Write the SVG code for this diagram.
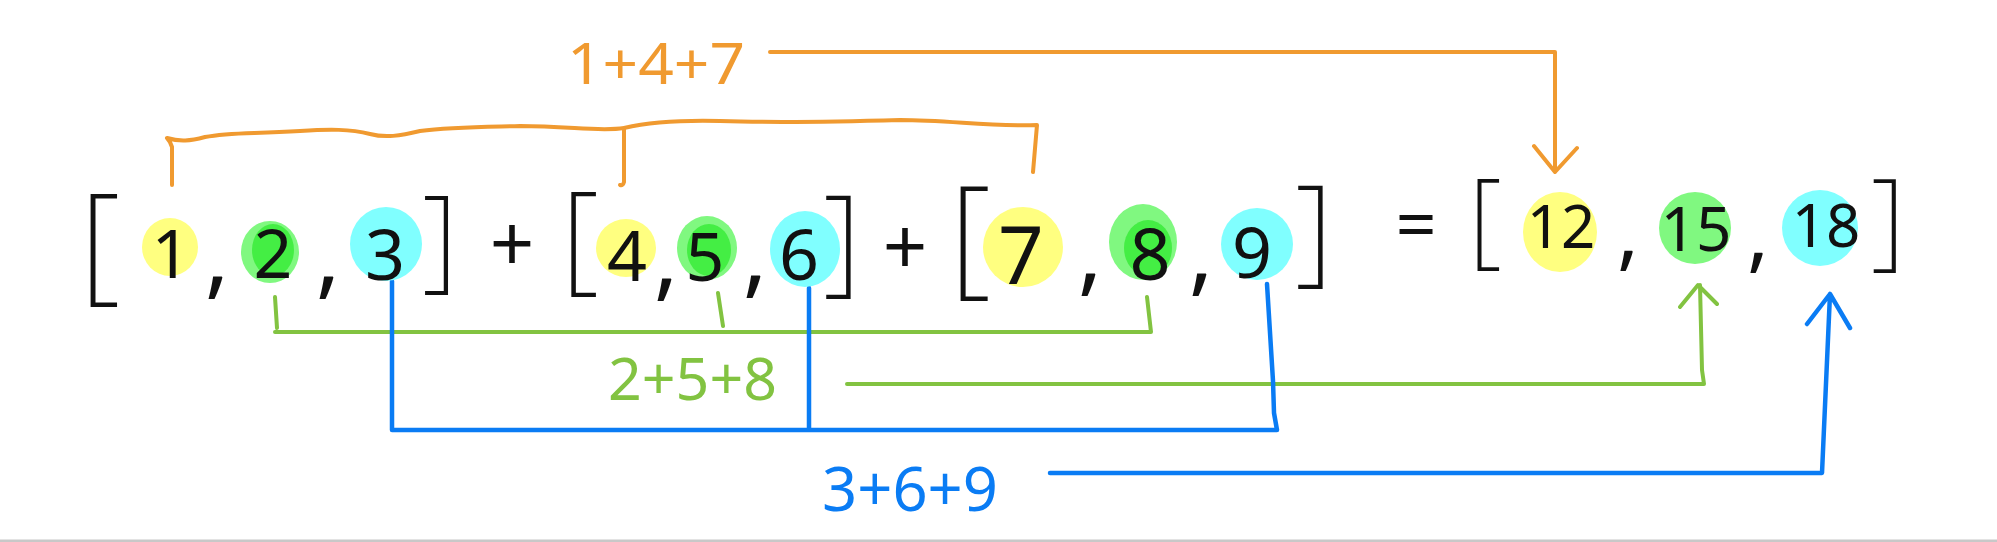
<svg xmlns="http://www.w3.org/2000/svg" width="1997" height="542" viewBox="0 0 1997 542">
<style>
.dg{font-family:"Noto Sans","Liberation Sans",sans-serif;fill:#111;text-anchor:middle}
.br{font-family:"Noto Sans","Liberation Sans",sans-serif;font-weight:200;fill:#111;text-anchor:middle}
.lbl{font-family:"Noto Sans","Liberation Sans",sans-serif}
.or{stroke:#F09A30;fill:none;stroke-width:4;stroke-linecap:round;stroke-linejoin:round}
.gr{stroke:#82C341;fill:none;stroke-width:4;stroke-linecap:round;stroke-linejoin:round}
.bl{stroke:#0A7CF4;fill:none;stroke-width:4.5;stroke-linecap:round;stroke-linejoin:round}
.y{fill:#FFFF80}
.g{fill:#80F880}
.gi{fill:#44EE44}
.c{fill:#80FFFF}
</style>
<rect width="1997" height="542" fill="#ffffff"/>
<rect x="0" y="539.5" width="1997" height="2.5" fill="#c8c8c8"/>

<g id="connectors">
  <path class="or" d="M172,185 L172,147 Q170,141 167,138 C180,142 190,141 205,137 C230,132 250,134 300,131 C330,129 350,129 370,134 C385,138 400,136 420,131 C450,127 480,127 520,126 C570,126 600,132 624,128 C650,122 680,120 720,121 C780,123 830,122 900,120 C950,120 990,127 1037,125 L1033,172"/>
  <path class="or" d="M624,128 L624,182 Q623,186 620,185"/>
  <path class="or" d="M770,52 H1555 V172 M1534,146 L1555,172 L1577,148"/>
  <path class="gr" d="M275,297 L277,328 M275,332 H1151 L1147,297 M718,293 L723,326"/>
  <path class="gr" d="M847,384 H1704 L1702,370 L1700,285 M1680,307 L1698,285 L1717,304"/>
  <path class="bl" d="M392,281 V430 H1277 L1274,413 L1273,381 L1267,284 M809,288 V430"/>
  <path class="bl" d="M1050,473 H1822 L1830,294 M1807,324 L1830,294 L1850,328"/>
</g>

<g id="label-147"><text class="lbl" x="567" y="84" font-size="57" fill="#F09A30" textLength="178" lengthAdjust="spacingAndGlyphs">1+4+7</text></g>
<g id="label-258"><text class="lbl" x="608" y="400" font-size="58" fill="#82C341" textLength="169" lengthAdjust="spacingAndGlyphs">2+5+8</text></g>
<g id="label-369"><text class="lbl" x="822" y="511" font-size="62" fill="#0A7CF4" textLength="176" lengthAdjust="spacingAndGlyphs">3+6+9</text></g>

<g id="list-a">
  <text class="br" x="100" y="287" font-size="129">[</text>
  <g id="n1"><ellipse class="y" cx="170" cy="247" rx="28" ry="29"/><text class="dg" x="171" y="278" font-size="68">1</text></g>
  <text class="dg" x="217" y="287" font-size="92">,</text>
  <g id="n2"><ellipse class="g" cx="270" cy="252" rx="29" ry="31"/><ellipse class="gi" cx="273" cy="250" rx="21" ry="26"/><text class="dg" x="273" y="278" font-size="68">2</text></g>
  <text class="dg" x="328" y="287" font-size="92">,</text>
  <g id="n3"><ellipse class="c" cx="386" cy="244" rx="36" ry="37"/><text class="dg" x="385" y="280" font-size="70">3</text></g>
  <text class="br" x="440" y="277" font-size="112">]</text>
</g>
<text class="dg" x="512" y="272" font-size="78">+</text>
<g id="list-b">
  <text class="br" x="580" y="278" font-size="120">[</text>
  <g id="n4"><ellipse class="y" cx="626" cy="248" rx="30" ry="29"/><text class="dg" x="627" y="281" font-size="70">4</text></g>
  <text class="dg" x="666" y="289" font-size="92">,</text>
  <g id="n5"><ellipse class="g" cx="707" cy="248" rx="30" ry="32"/><ellipse class="gi" cx="709" cy="250" rx="22" ry="26"/><text class="dg" x="705" y="281" font-size="68">5</text></g>
  <text class="dg" x="755" y="286" font-size="92">,</text>
  <g id="n6"><ellipse class="c" cx="805" cy="249" rx="35" ry="38"/><text class="dg" x="799" y="280" font-size="70">6</text></g>
  <text class="br" x="842" y="280" font-size="119">]</text>
</g>
<text class="dg" x="905" y="275" font-size="78">+</text>
<g id="list-c">
  <text class="br" x="970" y="280" font-size="132">[</text>
  <g id="n7"><ellipse class="y" cx="1023" cy="247" rx="40" ry="40"/><text class="dg" x="1021" y="284" font-size="80">7</text></g>
  <text class="dg" x="1090" y="284" font-size="92">,</text>
  <g id="n8"><ellipse class="g" cx="1143" cy="242" rx="34" ry="38"/><ellipse class="gi" cx="1148" cy="248" rx="24" ry="28"/><text class="dg" x="1150" y="280" font-size="72">8</text></g>
  <text class="dg" x="1201" y="284" font-size="92">,</text>
  <g id="n9"><ellipse class="c" cx="1257" cy="244" rx="36" ry="36"/><text class="dg" x="1252" y="278" font-size="70">9</text></g>
  <text class="br" x="1314" y="270" font-size="119">]</text>
</g>
<text class="dg" x="1416" y="250" font-size="72">=</text>
<g id="list-result">
  <text class="br" x="1485" y="254" font-size="105">[</text>
  <g id="n12"><ellipse class="y" cx="1560" cy="232" rx="37" ry="40"/><text class="dg" x="1561" y="248" font-size="60">12</text></g>
  <text class="dg" x="1628" y="260" font-size="82">,</text>
  <g id="n15"><ellipse class="g" cx="1695" cy="228" rx="36" ry="36"/><text class="dg" x="1696" y="251" font-size="62">15</text></g>
  <text class="dg" x="1758" y="262" font-size="82">,</text>
  <g id="n18"><ellipse class="c" cx="1820" cy="228" rx="38" ry="38"/><text class="dg" x="1826" y="247" font-size="60">18</text></g>
  <text class="br" x="1888" y="256" font-size="108">]</text>
</g>
</svg>
